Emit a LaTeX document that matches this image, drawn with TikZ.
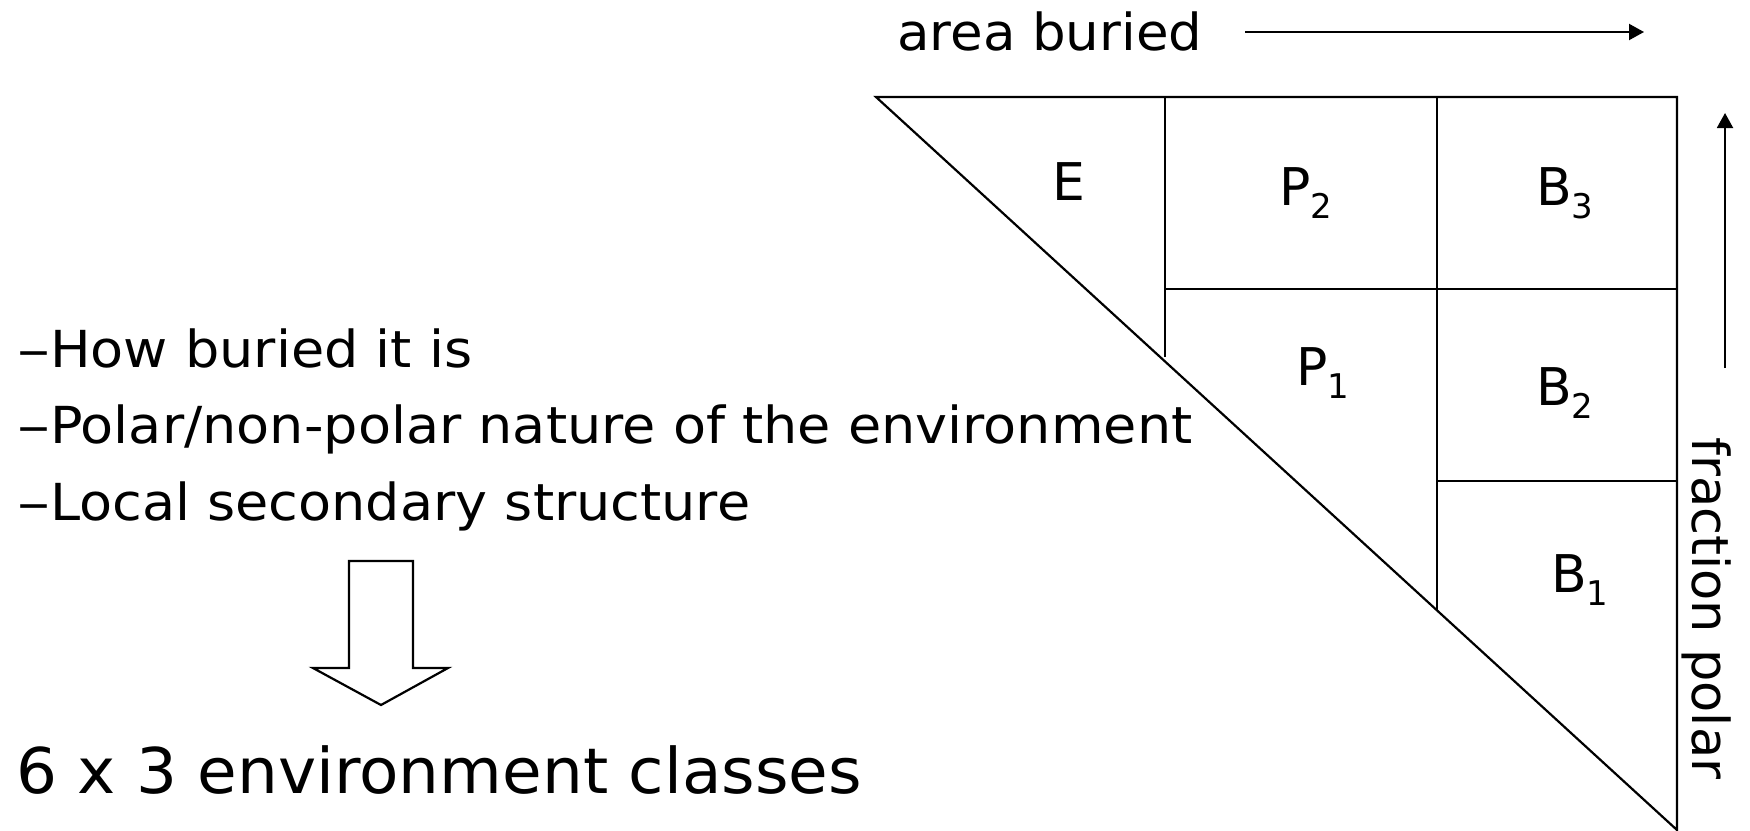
\documentclass[tikz,border=0pt]{standalone}
\usepackage{fontspec}
\setmainfont{DejaVu Sans}
\newfontfamily\widefont[FakeStretch=1.06]{DejaVu Sans}
\newfontfamily\axisfont[FakeStretch=1.04]{DejaVu Sans}
\newfontfamily\resultfont[FakeStretch=1.023]{DejaVu Sans}
\usetikzlibrary{arrows.meta}
% lowered, smaller index used in the cell labels
\newcommand\lowsub[1]{\raisebox{-13pt}{\fontsize{34}{34}\selectfont #1}}
% long dash opening each criterion
\newcommand\longdash{\scalebox{1.22}[1]{–}}
\begin{document}
\begin{tikzpicture}[x=1pt,y=-1pt,
  frame/.style={line width=2.2pt},
  cell/.style={anchor=base west,inner sep=0pt,font=\fontsize{52}{60}\selectfont},
  axislabel/.style={inner sep=0pt,font=\axisfont\fontsize{51}{60}\selectfont},
  sidelabel/.style={inner sep=0pt,font=\fontsize{51}{60}\selectfont},
  axisarrow/.style={line width=2pt,-{Triangle[length=15pt,width=16pt]}},
  bullet/.style={anchor=base west,inner sep=0pt,font=\widefont\fontsize{51}{60}\selectfont},
  bigarrow/.style={line width=2.2pt,line join=miter}]
\useasboundingbox (0,0) rectangle (1750,830);

% triangular chart
\coordinate (tl) at (876,97);
\coordinate (tr) at (1677,97);
\coordinate (br) at (1677,830);
\draw[frame] (tl) -- (tr) -- (br) -- cycle;

% grid of cells
\coordinate (v1top) at (1165,97);
\coordinate (v1bot) at (1165,357);
\coordinate (v2top) at (1437,97);
\coordinate (v2bot) at (1437,610);
\coordinate (h1l) at (1165,289);
\coordinate (h1r) at (1677,289);
\coordinate (h2l) at (1437,481);
\coordinate (h2r) at (1677,481);
\draw[frame] (v1top) -- (v1bot);
\draw[frame] (v2top) -- (v2bot);
\draw[frame] (h1l) -- (h1r);
\draw[frame] (h2l) -- (h2r);

% cell labels
\node[cell] (E)  at (1052,200) {E};
\node[cell] (P2) at (1279,205) {P\lowsub{2}};
\node[cell] (B3) at (1536,205) {B\lowsub{3}};
\node[cell] (P1) at (1296,385) {P\lowsub{1}};
\node[cell] (B2) at (1536,405) {B\lowsub{2}};
\node[cell] (B1) at (1551,592) {B\lowsub{1}};

% axes
\node[axislabel,anchor=base west] (area) at (897,50) {area buried};
\coordinate (a0) at (1245,32);
\coordinate (a1) at (1644,32);
\draw[axisarrow] (a0) -- (a1);

\node[sidelabel,anchor=base west,rotate=-90] (frac) at (1692,437) {fraction polar};
\coordinate (f0) at (1725,368);
\coordinate (f1) at (1725,113);
\draw[axisarrow] (f0) -- (f1);

% criteria list
\node[bullet] (c1) at (17,367) {\longdash How buried it is};
\node[bullet] (c2) at (17,443) {\longdash Polar/non-polar nature of the environment};
\node[bullet] (c3) at (17,520) {\longdash Local secondary structure};

% block arrow
\draw[bigarrow] (349,561) -- (413,561) -- (413,668) -- (448,668) -- (381,705)
  -- (313,668) -- (349,668) -- cycle;

\node[anchor=base west,inner sep=0pt,font=\resultfont\fontsize{63}{72}\selectfont] (res) at (16,793)
  {6 x 3 environment classes};
\end{tikzpicture}
\end{document}
